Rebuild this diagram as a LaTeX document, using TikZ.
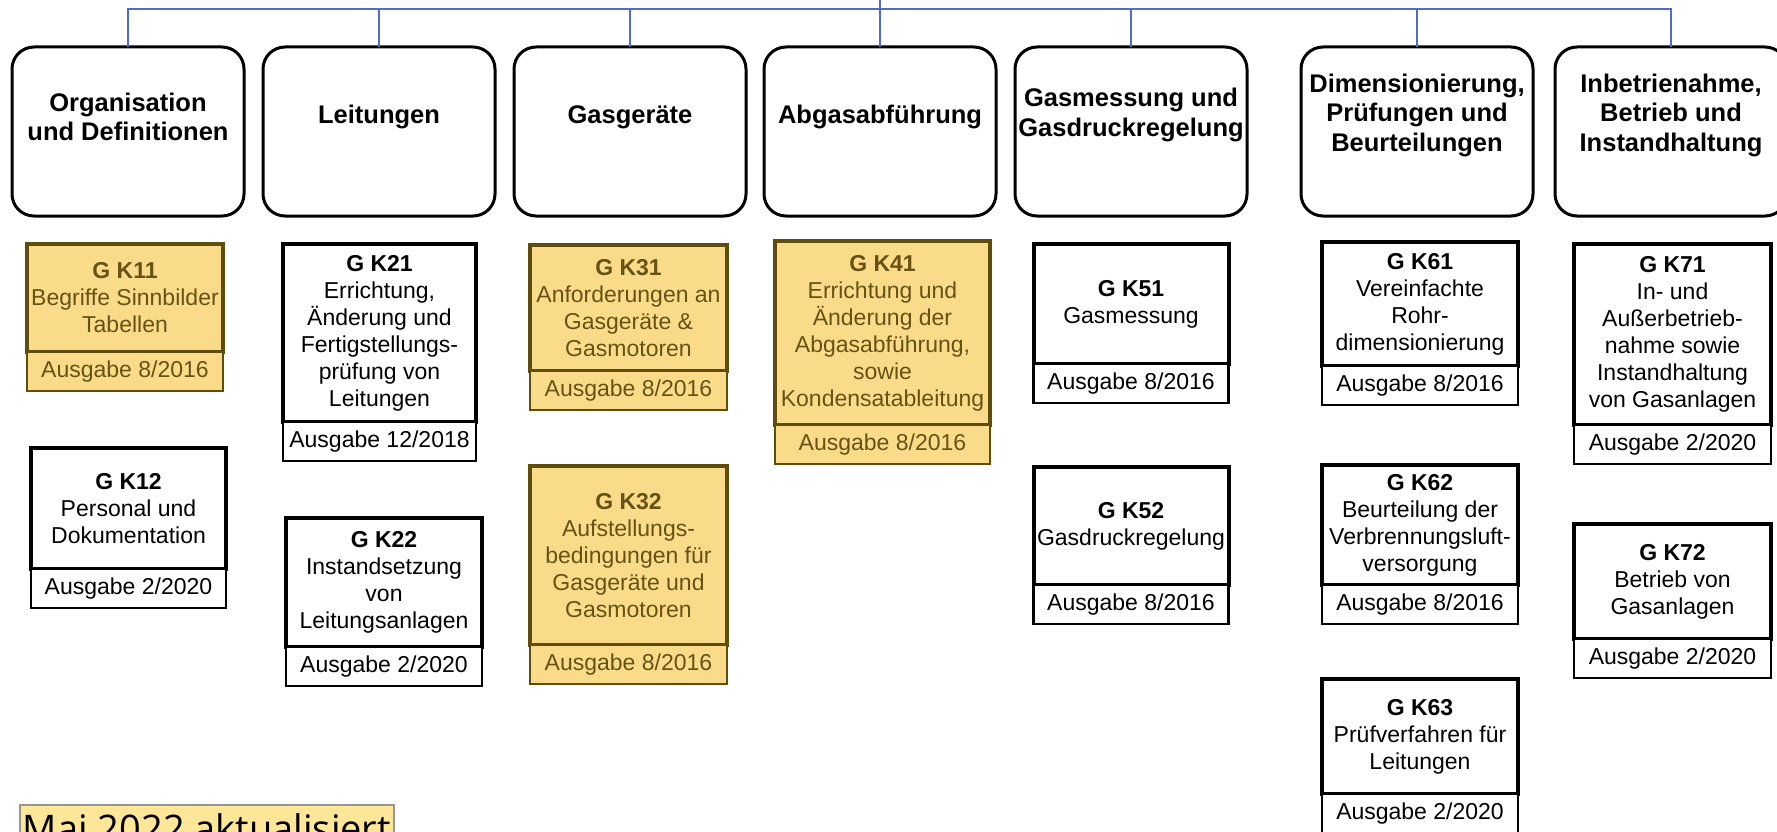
\documentclass[tikz,border=0pt]{standalone}
\usepackage{fontspec}
\setmainfont{Liberation Sans}
\newfontfamily\notefont{Open Sans}
\usepackage{tikz}
\usetikzlibrary{positioning}

\definecolor{wireblue}{RGB}{82,108,196}
\definecolor{goldfill}{RGB}{250,219,138}
\definecolor{goldedge}{RGB}{96,77,14}
\definecolor{goldtext}{RGB}{104,82,18}
\definecolor{notefill}{RGB}{255,230,153}
\definecolor{notegray}{RGB}{150,150,150}

\begin{document}
\begin{tikzpicture}[x=1pt,y=-1pt,
  wire/.style={draw=wireblue,line width=1.5pt},
  catbox/.style={draw=black,line width=3pt,rounded corners=22pt,minimum width=232pt,minimum height=169pt,inner sep=0pt,outer sep=0pt},
  cattext/.style={align=center,inner sep=0pt,font=\fontsize{25.5}{29.5}\selectfont\bfseries},
  sheet/.style={draw=black,fill=white,line width=4pt,align=center,inner sep=0pt,outer sep=0pt,font=\fontsize{23}{27}\selectfont},
  issue/.style={draw=black,fill=white,line width=2.5pt,inner sep=0pt,outer sep=0pt,minimum height=39pt,font=\fontsize{23}{27}\selectfont},
  gold/.style={fill=goldfill,draw=goldedge,text=goldtext},
  note/.style={fill=notefill,draw=notegray,line width=2pt,inner xsep=3pt,inner ysep=8pt,font=\notefont\fontsize{38}{42}\selectfont}]
\useasboundingbox (0,0) rectangle (1777,832);
\fill[white] (0,0) rectangle (1777,832);

%%% The seven main groups in the top row
\node[catbox] (c1) at (128,131.5) {};
\node[catbox] (c2) at (379,131.5) {};
\node[catbox] (c3) at (630,131.5) {};
\node[catbox] (c4) at (880,131.5) {};
\node[catbox] (c5) at (1131,131.5) {};
\node[catbox] (c6) at (1417,131.5) {};
\node[catbox] (c7) at (1671,131.5) {};
\node[cattext] (t1) at (128,117) {Organisation\\und Definitionen};
\node[cattext] (t2) at (379,117) {Leitungen};
\node[cattext] (t3) at (630,117) {Gasgeräte};
\node[cattext] (t4) at (880,117) {Abgasabführung};
\node[cattext] (t5) at (1131,115) {Gasmessung und\\Gasdruckregelung};
\node[cattext] (t6) at (1417,115) {Dimensionierung,\\Prüfungen und\\Beurteilungen};
\node[cattext] (t7) at (1671,115) {Inbetrienahme,\\Betrieb und\\Instandhaltung};

%%% The connecting lines to the groups
\coordinate (root) at (880,0);
\coordinate (bus) at (880,9);
\draw[wire] (root) -- (bus);
\draw[wire] (c1.north) -- (c1.north |- bus) -- (c7.north |- bus) -- (c7.north);
\foreach \i in {2,...,6}
  \draw[wire] (c\i.north) -- (c\i.north |- bus);

%%% Group 1
\node[sheet,gold,minimum width=196pt,minimum height=108pt] (k11) at (125,298) {\textbf{G K11}\\Begriffe Sinnbilder\\Tabellen};
\node[issue,gold,minimum width=196pt,below=0pt of k11] (k11d) {Ausgabe 8/2016};
\node[sheet,minimum width=195pt,minimum height=121pt] (k12) at (128.5,508.5) {\textbf{G K12}\\Personal und\\Dokumentation};
\node[issue,minimum width=195pt,below=0pt of k12] (k12d) {Ausgabe 2/2020};
%%% Group 2
\node[sheet,minimum width=193pt,minimum height=178pt] (k21) at (379.5,333) {\textbf{G K21}\\Errichtung,\\Änderung und\\Fertigstellungs-\\prüfung von\\Leitungen};
\node[issue,minimum width=193pt,below=0pt of k21] (k21d) {Ausgabe 12/2018};
\node[sheet,minimum width=196pt,minimum height=129pt] (k22) at (384,582.5) {\textbf{G K22}\\Instandsetzung\\von\\Leitungsanlagen};
\node[issue,minimum width=196pt,below=0pt of k22] (k22d) {Ausgabe 2/2020};
%%% Group 3
\node[sheet,gold,minimum width=197pt,minimum height=126pt] (k31) at (628.5,308) {\textbf{G K31}\\Anforderungen an\\Gasgeräte \&\\Gasmotoren};
\node[issue,gold,minimum width=197pt,below=0pt of k31] (k31d) {Ausgabe 8/2016};
\node[sheet,gold,minimum width=197pt,minimum height=179pt] (k32) at (628.5,555.5) {\textbf{G K32}\\Aufstellungs-\\bedingungen für\\Gasgeräte und\\Gasmotoren};
\node[issue,gold,minimum width=197pt,below=0pt of k32] (k32d) {Ausgabe 8/2016};
%%% Group 4
\node[sheet,gold,minimum width=215pt,minimum height=184pt] (k41) at (882.5,333) {\textbf{G K41}\\Errichtung und\\Änderung der\\Abgasabführung,\\sowie\\Kondensatableitung};
\node[issue,gold,minimum width=215pt,below=0pt of k41] (k41d) {Ausgabe 8/2016};
%%% Group 5
\node[sheet,minimum width=195pt,minimum height=120pt] (k51) at (1131,304) {\textbf{G K51}\\Gasmessung};
\node[issue,minimum width=195pt,below=0pt of k51] (k51d) {Ausgabe 8/2016};
\node[sheet,minimum width=195pt,minimum height=118pt] (k52) at (1131,526) {\textbf{G K52}\\Gasdruckregelung};
\node[issue,minimum width=195pt,below=0pt of k52] (k52d) {Ausgabe 8/2016};
%%% Group 6
\node[sheet,minimum width=196pt,minimum height=124pt] (k61) at (1420,304) {\textbf{G K61}\\Vereinfachte\\Rohr-\\dimensionierung};
\node[issue,minimum width=196pt,below=0pt of k61] (k61d) {Ausgabe 8/2016};
\node[sheet,minimum width=196pt,minimum height=120pt] (k62) at (1420,525) {\textbf{G K62}\\Beurteilung der\\Verbrennungsluft-\\versorgung};
\node[issue,minimum width=196pt,below=0pt of k62] (k62d) {Ausgabe 8/2016};
\node[sheet,minimum width=196pt,minimum height=115pt] (k63) at (1420,736.5) {\textbf{G K63}\\Prüfverfahren für\\Leitungen};
\node[issue,minimum width=196pt,below=0pt of k63] (k63d) {Ausgabe 2/2020};
%%% Group 7
\node[sheet,minimum width=197pt,minimum height=181pt] (k71) at (1672.5,334.5) {\textbf{G K71}\\In- und\\Außerbetrieb-\\nahme sowie\\Instandhaltung\\von Gasanlagen};
\node[issue,minimum width=197pt,below=0pt of k71] (k71d) {Ausgabe 2/2020};
\node[sheet,minimum width=197pt,minimum height=115pt] (k72) at (1672.5,581.5) {\textbf{G K72}\\Betrieb von\\Gasanlagen};
\node[issue,minimum width=197pt,below=0pt of k72] (k72d) {Ausgabe 2/2020};

%%% Update note
\node[note,anchor=base west] (stand) at (19,842) {Mai 2022 aktualisiert};
\end{tikzpicture}
\end{document}
